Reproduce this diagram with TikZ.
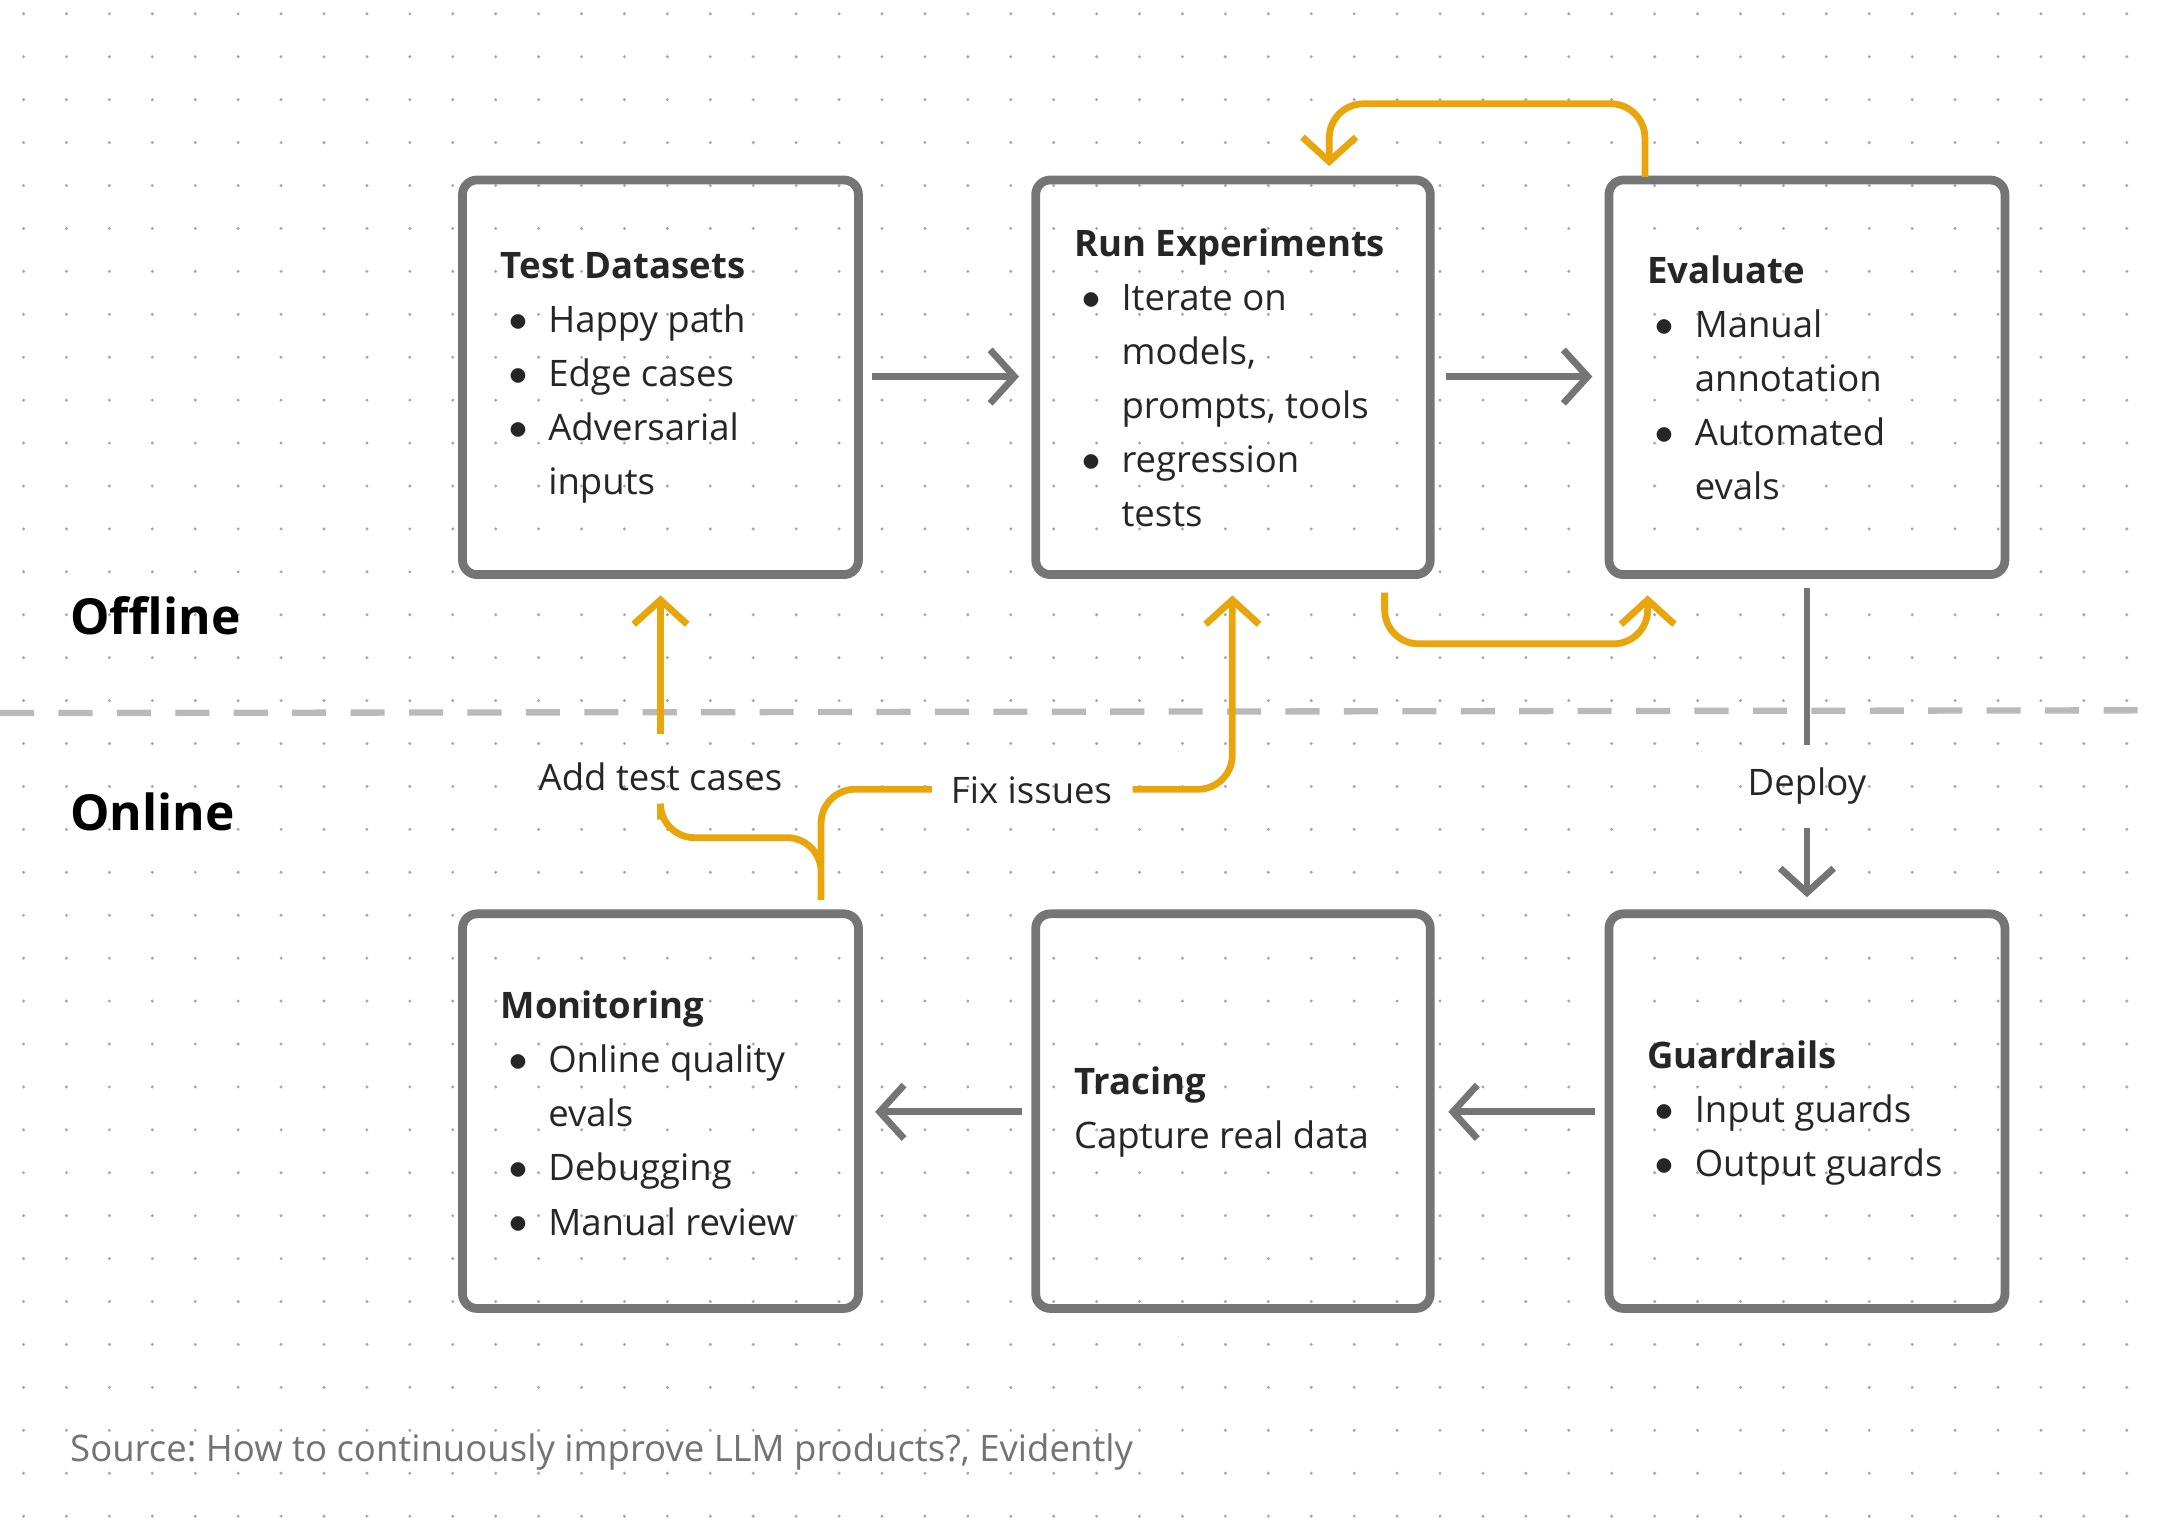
\documentclass[tikz,border=0pt]{standalone}
\usepackage{fontspec}
\setmainfont{Open Sans}
\usetikzlibrary{arrows.meta}
\definecolor{boxg}{HTML}{757575}
\definecolor{org}{HTML}{E8A60C}
\definecolor{dotg}{HTML}{A8A8A8}
\newcommand{\bl}{\makebox[1.3em][l]{\hspace{0.2em}\raisebox{0.12ex}{$\bullet$}}}
\newcommand{\ind}{\hspace{1.3em}}
\frenchspacing
\begin{document}
\begin{tikzpicture}[x=0.01cm,y=-0.01cm,
  box/.style={draw=boxg,line width=1.8pt,rounded corners=3pt},
  txt/.style={anchor=west,align=left,font=\fontsize{7.5}{11.1}\selectfont,inner sep=0pt,text=black!85},
  garr/.style={draw=boxg,line width=1.4pt,-{Straight Barb[length=5pt,width=11pt,line width=1.4pt]}},
  oarr/.style={draw=org,line width=1.4pt,rounded corners=7pt,-{Straight Barb[length=5pt,width=11pt,line width=1.4pt]}},
  oline/.style={draw=org,line width=1.4pt,rounded corners=7pt},
  lab/.style={font=\fontsize{7.5}{10}\selectfont,text=black!85,inner sep=1pt}]
\useasboundingbox (0,0) rectangle (1560,1110);
\fill[white] (0,0) rectangle (1560,1110);
\foreach \i in {0,...,50}{\foreach \j in {0,...,35}{
  \fill[dotg] (17+31*\i,10+31*\j) circle (1.2);}}
\draw[dotg!80,line width=1.3pt,dash pattern=on 7pt off 5pt] (0,515) -- (1560,513);
\node[anchor=west,font=\bfseries\fontsize{10.2}{12}\selectfont,inner sep=0pt] (off) at (50,445) {Offline};
\node[anchor=west,font=\bfseries\fontsize{10.2}{12}\selectfont,inner sep=0pt] (on) at (50,586) {Online};
\draw[box] (334,130) rectangle (620,415);
\draw[box] (748,130) rectangle (1033,415);
\draw[box] (1162,130) rectangle (1448,415);
\draw[box] (334,660) rectangle (620,945);
\draw[box] (748,660) rectangle (1033,945);
\draw[box] (1162,660) rectangle (1448,945);
\node[txt] (td) at (361,273) {\textbf{Test Datasets}\\\bl Happy path\\\bl Edge cases\\\bl Adversarial\\\ind inputs};
\node[txt] (re) at (775,273) {\textbf{Run Experiments}\\\bl Iterate on\\\ind models,\\\ind prompts, tools\\\bl regression\\\ind tests};
\node[txt] (ev) at (1189,273) {\textbf{Evaluate}\\\bl Manual\\\ind annotation\\\bl Automated\\\ind evals};
\node[txt] (mo) at (361,804) {\textbf{Monitoring}\\\bl Online quality\\\ind evals\\\bl Debugging\\\bl Manual review};
\node[txt] (tr) at (775,803) {\textbf{Tracing}\\Capture real data};
\node[txt] (gu) at (1189,804) {\textbf{Guardrails}\\\bl Input guards\\\bl Output guards};
\coordinate (a1) at (630,272); \coordinate (a2) at (736,272);
\coordinate (b1) at (1044,272); \coordinate (b2) at (1150,272);
\draw[garr] (a1) -- (a2);
\draw[garr] (b1) -- (b2);
\coordinate (d1) at (1305,425); \coordinate (d2) at (1305,538);
\coordinate (d3) at (1305,598); \coordinate (d4) at (1305,648);
\draw[boxg,line width=1.4pt] (d1) -- (d2);
\node[lab] (dep) at (1305,568) {Deploy};
\draw[garr] (d3) -- (d4);
\coordinate (c1) at (1152,803); \coordinate (c2) at (1046,803);
\coordinate (e1) at (738,803); \coordinate (e2) at (632,803);
\draw[garr] (c1) -- (c2);
\draw[garr] (e1) -- (e2);
\node[lab] (add) at (477,561) {Add test cases};
\node[lab] (fix) at (745,571) {Fix issues};
\coordinate (t1) at (477,530); \coordinate (t2) at (477,430);
\draw[oarr] (t1) -- (t2);
\draw[oline] (593,650) -- (593,605) -- (477,605) -- (477,592);
\draw[oline] (593,625) -- (593,570) -- (673,570);
\draw[oarr] (818,570) -- (890,570) -- (890,430);
\draw[oarr] (1188,128) -- (1188,75) -- (960,75) -- (960,120);
\draw[oarr] (1000,428) -- (1000,465) -- (1190,465) -- (1190,430);
\node[anchor=west,inner sep=0pt,font=\fontsize{7.5}{10}\selectfont,text=black!55] (src) at (50,1049) {Source: How to continuously improve LLM products?, Evidently};
\end{tikzpicture}
\end{document}
